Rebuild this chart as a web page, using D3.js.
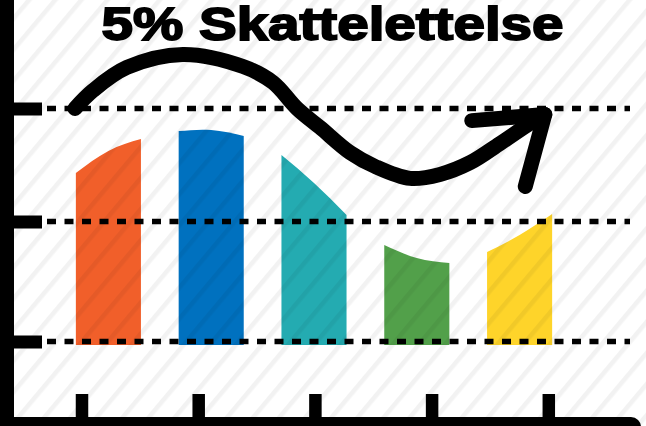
<!DOCTYPE html>
<html>
<head>
<meta charset="utf-8">
<script src="https://cdn.jsdelivr.net/npm/d3@7"></script>
<style>
  html, body { margin: 0; padding: 0; background: #fff; }
  svg { display: block; }
</style>
</head>
<body>
<svg id="chart" width="646" height="426"></svg>
<script>
// ---- data ----
const title = "5% Skattelettelse";
const categories = ["A", "B", "C", "D", "E"];
const colors = ["#F15F2A", "#0071BF", "#24ABB1", "#52A04A", "#FED42A"];
// bar top values at left edge, middle and right edge of each bar
const topLeft  = [72.3, 90.3, 80.0, 41.4, 38.4];
const topMid   = [81.8, 90.8, 68.0, 35.8, 45.7];
const topRight = [86.9, 88.2, 54.3, 33.7, 54.7];
const barBase = -1.5;
const gridTicks = [0, 51.5, 100];
const xTickLabels = ["", " ", "  ", "   ", "    "];
// trend arrow (x as fraction of plot width, y as value)
const arrowX = [0.035, 0.070, 0.136, 0.245, 0.362, 0.420, 0.467, 0.512, 0.570, 0.619, 0.687, 0.745, 0.804, 0.862, 0.920, 0.949];
const arrowY = [100, 107.7, 117.6, 123.2, 118.0, 111.2, 100, 91.8, 81.1, 75.1, 70.0, 71.7, 76.8, 85.0, 93.6, 97.4];
const headX = [0.807, 0.949, 0.911];
const headY = [94.8, 97.4, 66.5];

// ---- setup ----
const W = 646, H = 426;
const svg = d3.select("#chart");

const y = d3.scaleLinear().domain([0, 100]).range([341.5, 108.5]);
const x = d3.scaleBand().domain(categories).range([57, 571]).paddingInner(0.367).paddingOuter(0.1835);
const xf = d3.scaleLinear().domain([0, 1]).range([57, 571]);
const xt = d3.scalePoint().domain(xTickLabels).range([81.5, 548.3]);

// stripes pattern
const defs = svg.append("defs");
const pat = defs.append("pattern")
  .attr("id", "stripes")
  .attr("patternUnits", "userSpaceOnUse")
  .attr("width", 20).attr("height", 20)
  .attr("patternTransform", "rotate(40)");
pat.append("rect").attr("x", 0).attr("y", 0).attr("width", 4.5).attr("height", 20)
  .attr("fill", "rgba(0,0,0,0.05)");

svg.append("rect").attr("width", W).attr("height", H).attr("fill", "#fff");

// bars
const barData = categories.map((c, i) => ({ c, i }));
const topLine = d3.line().curve(d3.curveNatural);
svg.append("g").selectAll("path").data(barData).join("path")
  .attr("fill", d => colors[d.i])
  .attr("d", d => {
    const x0 = x(d.c), x1 = x(d.c) + x.bandwidth(), xm = (x0 + x1) / 2;
    const top = topLine([[x0, y(topLeft[d.i])], [xm, y(topMid[d.i])], [x1, y(topRight[d.i])]]);
    return top + `L${x1},${y(barBase)}L${x0},${y(barBase)}Z`;
  });

// dashed gridlines
svg.append("g").selectAll("line").data(gridTicks).join("line")
  .attr("x1", 47).attr("x2", 630)
  .attr("y1", d => y(d)).attr("y2", d => y(d))
  .attr("stroke", "#000").attr("stroke-width", 5.5)
  .attr("stroke-dasharray", "9,8.5");

// left axis
const yAxis = d3.axisRight(y).tickValues(gridTicks).tickSize(42).tickFormat("");
const gy = svg.append("g").attr("transform", "translate(0,0)").call(yAxis);
gy.select(".domain").remove();
gy.selectAll(".tick line").attr("stroke", "#000").attr("stroke-width", 13);
svg.append("line").attr("x1", 7).attr("x2", 7).attr("y1", 0).attr("y2", H)
  .attr("stroke", "#000").attr("stroke-width", 14);

// bottom axis
const xAxis = d3.axisBottom(xt).tickSize(-24).tickFormat("");
const gx = svg.append("g").attr("transform", "translate(0,418)").call(xAxis);
gx.select(".domain").remove();
gx.selectAll(".tick line").attr("stroke", "#000").attr("stroke-width", 12.5);
svg.append("rect").attr("x", -20).attr("y", 417).attr("width", 661).attr("height", 24)
  .attr("rx", 10).attr("fill", "#000");

// trend arrow
const arrowPts = arrowX.map((v, i) => [xf(v), y(arrowY[i])]);
svg.append("path")
  .attr("d", d3.line().curve(d3.curveCatmullRom)(arrowPts))
  .attr("fill", "none").attr("stroke", "#000").attr("stroke-width", 15)
  .attr("stroke-linecap", "round").attr("stroke-linejoin", "round");
const headPts = headX.map((v, i) => [xf(v), y(headY[i])]);
svg.append("path")
  .attr("d", d3.line()(headPts))
  .attr("fill", "none").attr("stroke", "#000").attr("stroke-width", 15)
  .attr("stroke-linecap", "round").attr("stroke-linejoin", "round");

// stripe overlay
svg.append("rect").attr("width", W).attr("height", H).attr("fill", "url(#stripes)");

// title
svg.append("text")
  .attr("x", 332.5).attr("y", 40)
  .attr("text-anchor", "middle")
  .attr("font-family", "'Liberation Sans', Arial, sans-serif")
  .attr("font-weight", "bold")
  .attr("font-size", 46)
  .attr("textLength", 462).attr("lengthAdjust", "spacingAndGlyphs")
  .attr("stroke", "#000").attr("stroke-width", 1.8)
  .attr("fill", "#000")
  .text(title);
</script>
</body>
</html>
